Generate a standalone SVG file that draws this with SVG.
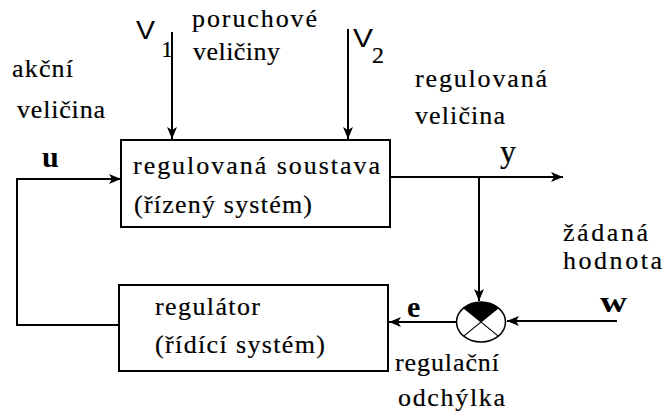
<svg xmlns="http://www.w3.org/2000/svg" width="664" height="414" viewBox="0 0 664 414">
<defs>
<marker id="ah" viewBox="0 0 12 10" refX="12" refY="5" markerWidth="12" markerHeight="10" markerUnits="userSpaceOnUse" orient="auto">
<path d="M0,0 L12,5 L0,10 L3,5 Z" fill="#000"/>
</marker>
</defs>
<style>
.t{font-family:"Liberation Serif","Times New Roman",serif;font-size:26px;fill:#000;stroke:#000;stroke-width:0.2}
.b{font-family:"Liberation Serif","Times New Roman",serif;font-size:30px;font-weight:bold;fill:#000}
.s{font-family:"Liberation Sans",Arial,sans-serif;font-size:26px;fill:#000}
.box{fill:#fff;stroke:#000;stroke-width:2}
.ln{fill:none;stroke:#000;stroke-width:2}
</style>
<rect width="664" height="414" fill="#fff"/>
<g id="connectors">
<polyline class="ln" points="119,325 17,325 17,179 121,179" marker-end="url(#ah)"/>
<line class="ln" x1="172" y1="32" x2="172" y2="139" marker-end="url(#ah)"/>
<line class="ln" x1="348" y1="29" x2="348" y2="139" marker-end="url(#ah)"/>
<line class="ln" x1="390" y1="177" x2="563" y2="177" marker-end="url(#ah)"/>
<line class="ln" x1="479" y1="177" x2="479" y2="301" marker-end="url(#ah)"/>
<line class="ln" x1="457" y1="322" x2="389" y2="322" marker-end="url(#ah)"/>
<line class="ln" x1="617" y1="321" x2="507" y2="321" marker-end="url(#ah)"/>
</g>
<g id="plant">
<rect class="box" x="121" y="140" width="269" height="87"/>
<text class="t" x="133" y="174" textLength="247" lengthAdjust="spacing">regulovaná soustava</text>
<text class="t" x="134" y="213" textLength="178" lengthAdjust="spacing">(řízený systém)</text>
</g>
<g id="controller">
<rect class="box" x="119" y="285" width="269" height="86"/>
<text class="t" x="155" y="315" textLength="105" lengthAdjust="spacing">regulátor</text>
<text class="t" x="155" y="353" textLength="170" lengthAdjust="spacing">(řídící systém)</text>
</g>
<g id="sum">
<ellipse cx="481" cy="322" rx="24.5" ry="20" fill="#fff" stroke="#000" stroke-width="1.5"/>
<path d="M481,322 L463.7,307.9 A24.5,20 0 0 1 498.3,307.9 Z" fill="#000"/>
<path d="M463.7,336.1 L498.3,307.9 M463.7,307.9 L498.3,336.1" stroke="#000" stroke-width="1.2" fill="none"/>
</g>
<g id="labels">
<text class="t" x="12" y="77" textLength="61" lengthAdjust="spacing">akční</text>
<text class="t" x="17" y="118" textLength="88" lengthAdjust="spacing">veličina</text>
<text class="b" x="42" y="167">u</text>
<text class="s" x="136" y="39" textLength="19" lengthAdjust="spacingAndGlyphs">V</text>
<text class="t" x="161" y="57" style="font-size:24px">1</text>
<text class="t" x="192" y="27" textLength="125" lengthAdjust="spacing">poruchové</text>
<text class="t" x="193" y="60" textLength="87" lengthAdjust="spacing">veličiny</text>
<text class="s" x="353" y="47" textLength="20" lengthAdjust="spacingAndGlyphs">V</text>
<text class="t" x="372" y="63" style="font-size:24px">2</text>
<text class="t" x="415" y="87" textLength="132" lengthAdjust="spacing">regulovaná</text>
<text class="t" x="415" y="124" textLength="90" lengthAdjust="spacing">veličina</text>
<text class="t" x="500" y="162" style="font-size:32px">y</text>
<text class="t" x="563" y="241" textLength="85" lengthAdjust="spacing">žádaná</text>
<text class="t" x="563" y="269" textLength="99" lengthAdjust="spacing">hodnota</text>
<text class="b" x="600" y="312" textLength="27" lengthAdjust="spacingAndGlyphs">w</text>
<text class="b" x="407" y="317">e</text>
<text class="t" x="395" y="371" textLength="104" lengthAdjust="spacing">regulační</text>
<text class="t" x="398" y="406" textLength="107" lengthAdjust="spacing">odchýlka</text>
</g>
</svg>
